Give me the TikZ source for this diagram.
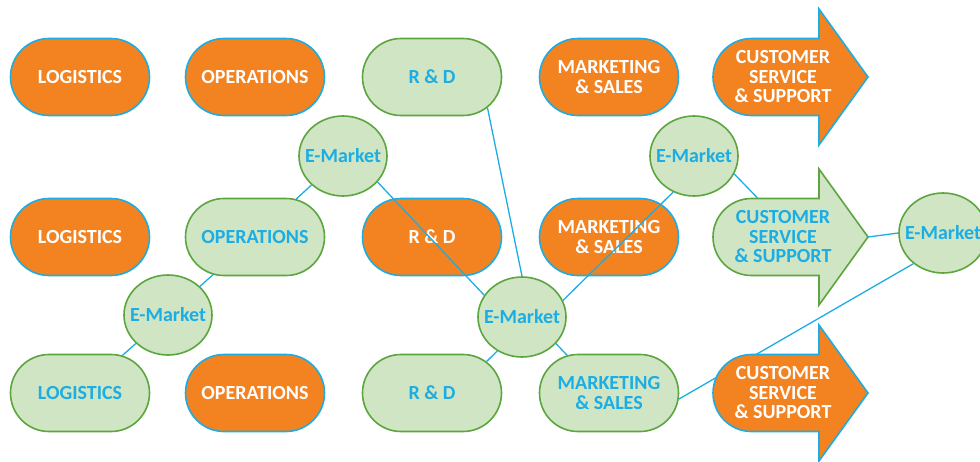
\documentclass[tikz,border=0pt]{standalone}
\usepackage{fontspec}
\setmainfont{Carlito}
\usetikzlibrary{shapes.misc,shapes.geometric}

\definecolor{chainorange}{HTML}{F38221}
\definecolor{chainblue}{HTML}{1BADE4}
\definecolor{chaingreen}{HTML}{D0E5C3}
\definecolor{chainedge}{HTML}{5CA53F}

\tikzset{
  hot/.style={fill=chainorange, draw=chainblue, text=white},
  cool/.style={fill=chaingreen, draw=chainedge, text=chainblue},
  pill/.style={rounded rectangle, minimum width=139pt, minimum height=77pt,
    line width=1.6pt, align=center, inner sep=0pt,
    font=\fontsize{20}{20}\selectfont\bfseries},
  emarket/.style={ellipse, cool, minimum width=88pt, minimum height=80pt,
    inner sep=0pt, line width=1.6pt, font=\fontsize{20}{20}\selectfont\bfseries},
  link/.style={draw=chainblue, line width=1.3pt}
}

\newcommand{\emlabel}{\makebox[0pt]{E-Market}}

\newcommand{\csarrow}[3]{%
  \draw[#3, line width=1.6pt] (819,#2-38.5) -- (819,#2-68) -- (868,#2) -- (819,#2+68)
    -- (819,#2+38.5) -- (751.5,#2+38.5) arc[start angle=90, end angle=270, radius=38.5] -- cycle;
  \node[#3, draw=none, fill=none, align=center, font=\fontsize{20}{19.5}\selectfont\bfseries]
    (#1) at (783,#2) {CUSTOMER\\SERVICE\\\& SUPPORT};
  \coordinate (#1 tip) at (868,#2);
  \coordinate (#1 top) at (758,#2-38.5);
}

\begin{document}
\begin{tikzpicture}[x=1pt, y=-1pt]
        \useasboundingbox (0,0) rectangle (980,461);

        \node[pill, hot]  (log1) at (80,77)  {LOGISTICS};
        \node[pill, hot]  (ops1) at (255,77) {OPERATIONS};
        \node[pill, cool] (rd1)  at (432,77) {R \& D};
        \node[pill, hot]  (mkt1) at (609,77) {MARKETING\\\& SALES};
        \csarrow{cs1}{77}{hot}

        \node[pill, hot]  (log2) at (80,237)  {LOGISTICS};
        \node[pill, cool] (ops2) at (255,237) {OPERATIONS};
        \node[pill, hot]  (rd2)  at (432,237) {R \& D};
        \node[pill, hot]  (mkt2) at (609,237) {MARKETING\\\& SALES};
        \csarrow{cs2}{237}{cool}

        \node[pill, cool] (log3) at (80,393)  {LOGISTICS};
        \node[pill, hot]  (ops3) at (255,393) {OPERATIONS};
        \node[pill, cool] (rd3)  at (432,393) {R \& D};
        \node[pill, cool] (mkt3) at (609,393) {MARKETING\\\& SALES};

        \node[emarket] (e1) at (168,315) {\emlabel};
        \node[emarket] (e2) at (343,156) {\emlabel};
        \node[emarket] (e3) at (522,317) {\emlabel};
        \node[emarket] (e4) at (694,156) {\emlabel};
        \node[emarket] (e5) at (943,233) {\emlabel};

        \draw[link] (log3) -- (e1);
        \draw[link] (e1) -- (ops2);
        \draw[link] (ops2) -- (e2);
        \draw[link] (e2.-37) -- (e3.150);
        \draw[link] (rd1.-29) -- (e3.north);
        \draw[link] (e3.22) -- (e4.240);
        \draw[link] (e4.-24) -- (cs2 top);
        \draw[link] (cs2 tip) -- (e5.west);
        \draw[link] (e3.234) -- (rd3.30);
        \draw[link] (e3.-38) -- (mkt3.138);
        \draw[link] (mkt3.-5) -- (e5.226);

        \csarrow{cs3}{393}{hot}
    \end{tikzpicture}
\end{document}
